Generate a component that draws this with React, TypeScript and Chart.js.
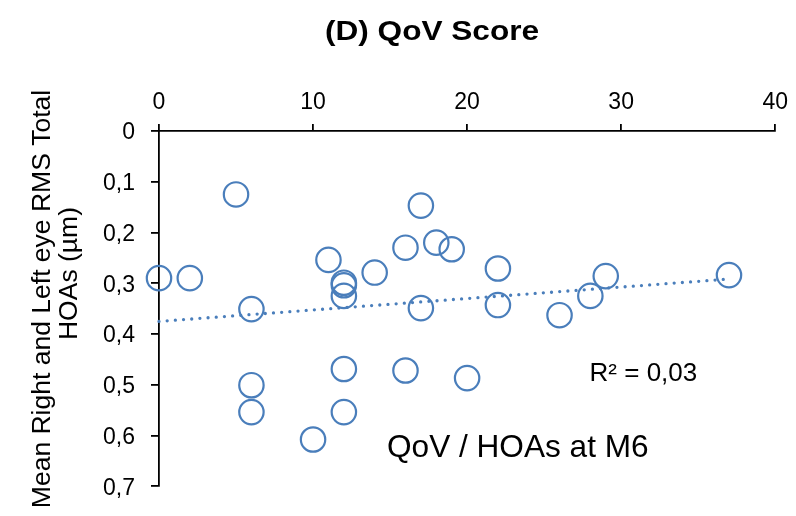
import React, { useEffect, useRef } from "react";
import { Chart, registerables } from "chart.js";

Chart.register(...registerables);

// QoV score (x) and mean RMS total HOAs in µm (y) at M6
const QOV_SCORE = [0, 2, 5, 6, 6, 6, 10, 11, 12, 12, 12, 12, 12, 14, 16, 16, 17, 17, 18, 19, 20, 22, 22, 26, 28, 29, 37];
const HOA_RMS = [0.29, 0.29, 0.125, 0.351, 0.501, 0.554, 0.608, 0.254, 0.299, 0.304, 0.325, 0.469, 0.554, 0.279, 0.23, 0.472, 0.147, 0.349, 0.22, 0.233, 0.487, 0.271, 0.343, 0.363, 0.325, 0.286, 0.284];

const X_TICK_LABELS = ["0", "10", "20", "30", "40"];
const Y_TICK_LABELS = ["0", "0,1", "0,2", "0,3", "0,4", "0,5", "0,6", "0,7"];

const TITLE = "(D) QoV Score";
const Y_TITLE = ["Mean Right and Left eye RMS Total", "HOAs (µm)"];
const R2_LABEL = "R² = 0,03";
const CAPTION = "QoV / HOAs at M6";

const BLUE = "#4A7EBB";
const FONT = '"Liberation Sans", Arial, sans-serif';

function linearFit(xs: number[], ys: number[]) {
  const n = xs.length;
  const mx = xs.reduce((a, b) => a + b, 0) / n;
  const my = ys.reduce((a, b) => a + b, 0) / n;
  let sxy = 0;
  let sxx = 0;
  for (let i = 0; i < n; i++) {
    sxy += (xs[i] - mx) * (ys[i] - my);
    sxx += (xs[i] - mx) * (xs[i] - mx);
  }
  const slope = sxy / sxx;
  return { slope, intercept: my - slope * mx };
}

const textPlugin = {
  id: "customTexts",
  afterDraw(chart: any) {
    const { ctx, scales } = chart;
    const xs = scales.x;
    const ys = scales.y;
    ctx.save();
    ctx.fillStyle = "#000";
    ctx.textBaseline = "alphabetic";
    // main title (stretched bold Arial look)
    ctx.font = `bold 27px ${FONT}`;
    ctx.textAlign = "center";
    ctx.save();
    ctx.translate(432, 40);
    ctx.scale(1.17, 1);
    ctx.fillText(TITLE, 0, 0);
    ctx.restore();
    // vertical axis title, two lines
    ctx.font = `26.5px ${FONT}`;
    ctx.save();
    ctx.translate(50, 299);
    ctx.rotate(-Math.PI / 2);
    ctx.fillText(Y_TITLE[0], 0, 0);
    ctx.restore();
    ctx.save();
    ctx.translate(76.7, 273.5);
    ctx.rotate(-Math.PI / 2);
    ctx.fillText(Y_TITLE[1], 0, 0);
    ctx.restore();
    // R² label
    ctx.textAlign = "left";
    ctx.font = `26px ${FONT}`;
    ctx.fillText(R2_LABEL, xs.getPixelForValue(27.95), ys.getPixelForValue(0.4935));
    // caption
    ctx.font = `31.6px ${FONT}`;
    ctx.fillText(CAPTION, xs.getPixelForValue(14.8), ys.getPixelForValue(0.642));
    ctx.restore();
  },
};

export default function App() {
  const ref = useRef<HTMLCanvasElement | null>(null);

  useEffect(() => {
    if (!ref.current) return;
    const fit = linearFit(QOV_SCORE, HOA_RMS);
    const xMin = Math.min(...QOV_SCORE);
    const xMax = Math.max(...QOV_SCORE);
    const points = QOV_SCORE.map((x, i) => ({ x, y: HOA_RMS[i] }));
    const trend = [
      { x: xMin, y: fit.intercept + fit.slope * xMin },
      { x: xMax, y: fit.intercept + fit.slope * xMax },
    ];

    const chart = new Chart(ref.current, {
      type: "scatter",
      data: {
        datasets: [
          {
            label: "QoV / HOAs",
            data: points,
            pointRadius: 12.2,
            pointHoverRadius: 12.2,
            pointBorderWidth: 2.2,
            borderColor: BLUE,
            backgroundColor: "rgba(0,0,0,0)",
            pointBackgroundColor: "rgba(0,0,0,0)",
            pointBorderColor: BLUE,
            clip: false,
            order: 1,
          },
          {
            type: "line",
            label: "Linear trend",
            data: trend,
            showLine: true,
            pointRadius: 0,
            borderColor: BLUE,
            borderWidth: 3.3,
            borderDash: [0, 8.2],
            borderCapStyle: "round",
            fill: false,
            clip: false,
            order: 2,
          } as any,
        ],
      },
      options: {
        animation: false,
        responsive: true,
        maintainAspectRatio: false,
        devicePixelRatio: 1,
        layout: { padding: { left: 0, top: 0, right: 19, bottom: 28 } },
        plugins: {
          legend: { display: false },
          title: { display: false },
          tooltip: { enabled: false },
        },
        scales: {
          x: {
            type: "linear",
            position: "top",
            min: 0,
            max: 40,
            afterFit: (s: any) => {
              s.height = 131;
            },
            ticks: {
              stepSize: 10,
              padding: 8,
              color: "#000",
              font: { family: FONT, size: 23 },
              callback: (v: any) => X_TICK_LABELS[Math.round(Number(v) / 10)],
            },
            grid: {
              display: true,
              drawOnChartArea: false,
              drawTicks: true,
              tickLength: 7,
              color: "#000",
              lineWidth: 1.8,
            },
            border: { display: true, color: "#000", width: 1.8 },
          },
          y: {
            type: "linear",
            reverse: true,
            min: 0,
            max: 0.7,
            afterFit: (s: any) => {
              s.width = 159;
            },
            ticks: {
              stepSize: 0.1,
              padding: 16,
              labelOffset: 2,
              color: "#000",
              font: { family: FONT, size: 23 },
              callback: (v: any) => Y_TICK_LABELS[Math.round(Number(v) * 10)],
            },
            grid: {
              display: true,
              drawOnChartArea: false,
              drawTicks: true,
              tickLength: 8,
              color: "#000",
              lineWidth: 1.8,
            },
            border: { display: true, color: "#000", width: 1.8 },
          },
        },
      },
      plugins: [textPlugin],
    } as any);

    return () => chart.destroy();
  }, []);

  return (
    <div style={{ position: "fixed", left: 0, top: 0, width: 796, height: 516, background: "#fff" }}>
      <canvas ref={ref} />
    </div>
  );
}
